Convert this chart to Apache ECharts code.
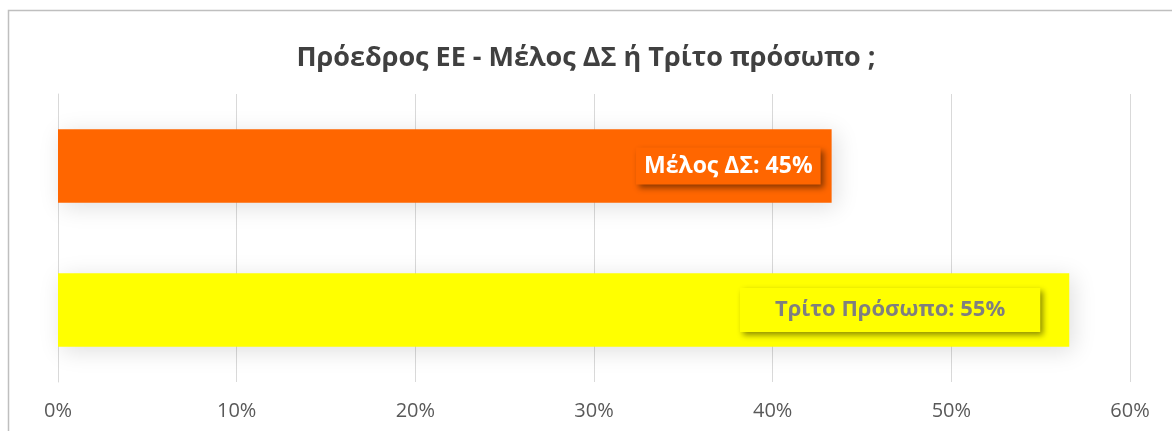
<!DOCTYPE html>
<html>
<head>
<meta charset="utf-8">
<script src="https://cdn.jsdelivr.net/npm/echarts@6/dist/echarts.min.js"></script>
<style>
  html, body { margin: 0; padding: 0; background: #fff; }
  #chart { width: 1172px; height: 431px; }
</style>
</head>
<body>
<div id="chart"></div>
<script>
// κατηγορίες και τιμές (διαβασμένες από το γράφημα)
const katigories = ["Μέλος ΔΣ", "Τρίτο Πρόσωπο"];
const times = [43.3, 56.6];
const etiketes = ["45%", "55%"];
const xromata = ["#ff6600", "#ffff00"];
const xromataKeimenou = ["#ffffff", "#7f7f7f"];
const xTicks = [0, 10, 20, 30, 40, 50, 60];

let myChart = echarts.init(document.getElementById("chart"));
const font = "'Open Sans', 'Noto Sans', sans-serif";

// ρυθμίσεις ετικέτας ανά μπάρα
const labelFont = [23, 22];
const labelDist = [11, 29];
const labelPad = [[7, 8, 7, 8], [11, 35, 11, 35]];

let option = {
  animation: false,
  backgroundColor: "#ffffff",
  graphic: [{
    type: "rect",
    shape: { x: 8.5, y: 10.5, width: 1200, height: 500 },
    style: { fill: "none", stroke: "#bfbfbf", lineWidth: 1.5 },
    silent: true
  }],
  title: {
    text: "Πρόεδρος ΕΕ - Μέλος ΔΣ ή Τρίτο πρόσωπο ;",
    left: "center",
    top: 40,
    textStyle: { fontFamily: font, fontSize: 27, fontWeight: "bold", color: "#404040" }
  },
  grid: { left: 58, right: 42, top: 94, bottom: 49 },
  xAxis: {
    type: "value",
    min: xTicks[0],
    max: xTicks[xTicks.length - 1],
    interval: 10,
    axisLine: { show: false },
    axisTick: { show: false },
    splitLine: { show: true, lineStyle: { color: "#d9d9d9", width: 1 } },
    axisLabel: {
      formatter: "{value}%",
      margin: 19,
      fontFamily: font,
      fontSize: 20,
      color: "#595959"
    }
  },
  yAxis: {
    type: "category",
    inverse: true,
    data: katigories,
    axisLine: { show: true, lineStyle: { color: "#d9d9d9" } },
    axisTick: { show: false },
    axisLabel: { show: false }
  },
  series: [{
    type: "bar",
    barCategoryGap: "49%",
    data: times.map((v, i) => ({
      value: v,
      itemStyle: {
        color: xromata[i],
        shadowBlur: 22,
        shadowColor: "rgba(0,0,0,0.13)",
        shadowOffsetX: 4,
        shadowOffsetY: 4
      },
      label: {
        show: true,
        position: "insideRight",
        distance: labelDist[i],
        formatter: katigories[i] + ": " + etiketes[i],
        fontFamily: font,
        fontSize: labelFont[i],
        fontWeight: "bold",
        color: xromataKeimenou[i],
        backgroundColor: xromata[i],
        padding: labelPad[i],
        shadowBlur: 6,
        shadowColor: "rgba(0,0,0,0.45)",
        shadowOffsetX: 3,
        shadowOffsetY: 3
      }
    }))
  }]
};

myChart.setOption(option);
</script>
</body>
</html>
